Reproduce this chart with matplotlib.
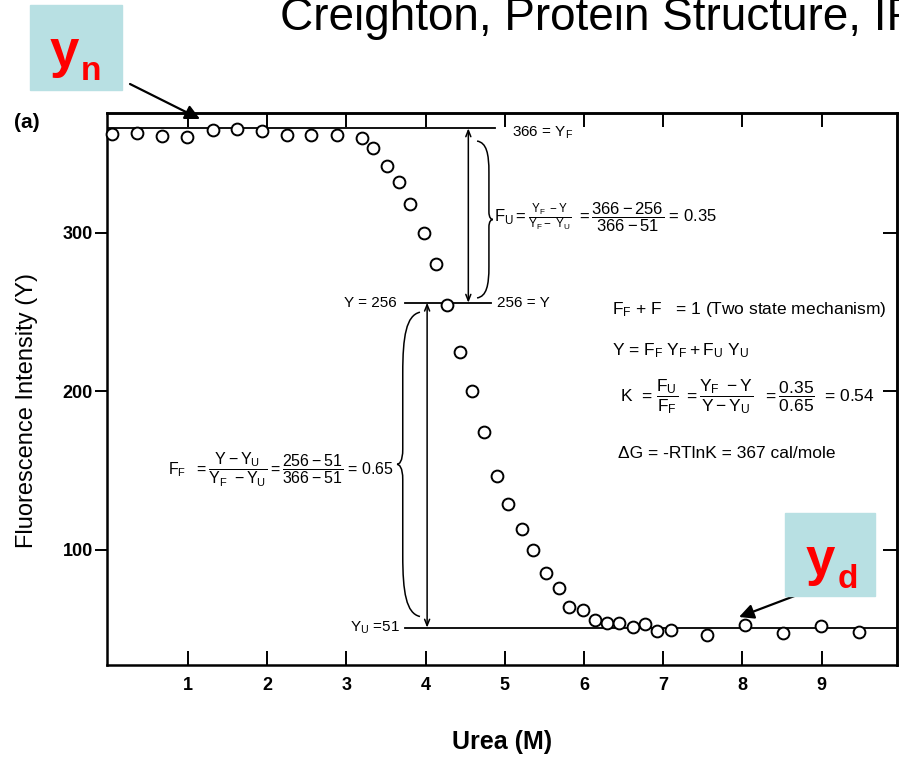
import matplotlib
matplotlib.use('Agg')
import matplotlib.pyplot as plt
from matplotlib.path import Path
from matplotlib.patches import PathPatch, Rectangle

plt.rcParams['font.family'] = ['Liberation Sans', 'DejaVu Sans']
plt.rcParams['mathtext.fontset'] = 'custom'
plt.rcParams['mathtext.rm'] = 'Liberation Sans'
plt.rcParams['mathtext.it'] = 'Liberation Sans'
plt.rcParams['mathtext.bf'] = 'Liberation Sans:bold'

# ---- data ----
urea = [0.04, 0.36, 0.67, 0.99, 1.32, 1.62, 1.94, 2.25, 2.55, 2.88,
        3.20, 3.34, 3.51, 3.67, 3.80, 3.98, 4.13, 4.27, 4.44, 4.59,
        4.74, 4.90, 5.04, 5.22, 5.36, 5.52, 5.69, 5.81, 5.99, 6.14,
        6.29, 6.44, 6.62, 6.77, 6.92, 7.10, 7.55, 8.03, 8.51, 8.99, 9.47]
fluor = [362.5, 363.1, 361.2, 360.6, 365.0, 365.6, 364.4, 361.8, 361.8, 361.8,
         359.9, 353.6, 342.3, 332.2, 318.3, 300.0, 280.4, 254.6, 225.0, 200.3,
         174.5, 146.8, 129.0, 113.2, 100.0, 85.5, 76.0, 64.0, 62.1, 55.8,
         53.9, 53.9, 51.4, 53.3, 48.9, 49.5, 46.4, 52.7, 47.6, 52.1, 48.3]
x_ticks = [1, 2, 3, 4, 5, 6, 7, 8, 9]
y_ticks = [100, 200, 300]
Y_F = 366
Y_MID = 256
Y_U = 51

W, H = 899, 781
def fx(px):
    return px / W
def fy(py):
    return 1 - py / H

fig = plt.figure(figsize=(W / 100, H / 100), dpi=100)
fig.patch.set_facecolor('white')
ax = fig.add_axes([fx(107), fy(665), (897 - 107) / W, (665 - 113) / H])
ax.set_xlim(-0.02, 9.95)
ax.set_ylim(27.4, 375.7)

for s in ax.spines.values():
    s.set_linewidth(1.8)
    s.set_color('black')

ax.plot(urea, fluor, 'o', mfc='white', mec='black', ms=8.5, mew=1.4,
        zorder=6, clip_on=False)

# ticks
ax.set_xticks(x_ticks)
ax.set_yticks(y_ticks)
ax.tick_params(axis='x', direction='in', length=10, width=1.4, labelsize=13,
               pad=9, top=False)
ax.tick_params(axis='y', direction='out', length=9, width=1.4, labelsize=13,
               pad=1, right=False)
for lbl in ax.get_xticklabels() + ax.get_yticklabels():
    lbl.set_fontweight('bold')
sec_top = ax.secondary_xaxis('top')
sec_top.set_xticks(x_ticks)
sec_top.tick_params(direction='in', length=10, width=1.4, labelsize=0,
                    labeltop=False)
sec_top.spines['top'].set_linewidth(1.8)
sec_right = ax.secondary_yaxis('right')
sec_right.set_yticks(y_ticks)
sec_right.tick_params(direction='in', length=10, width=1.4, labelsize=0,
                      labelright=False)
sec_right.spines['right'].set_linewidth(1.8)

# reference lines
ax.plot([-0.02, 4.88], [Y_F, Y_F], color='black', lw=1.3, zorder=3)
ax.plot([3.74, 4.82], [Y_MID, Y_MID], color='black', lw=1.3, zorder=3)
ax.plot([3.74, 9.95], [Y_U, Y_U], color='black', lw=1.3, zorder=3)

arrow_kw = dict(arrowstyle='<->,head_length=0.45,head_width=0.18',
                color='black', lw=1.1, shrinkA=0, shrinkB=0)
ax.annotate('', xy=(4.54, Y_F), xytext=(4.54, Y_MID), arrowprops=arrow_kw)
ax.annotate('', xy=(4.02, Y_MID), xytext=(4.02, Y_U), arrowprops=arrow_kw)

def brace(x0, y0, y1, w, d):
    L = y1 - y0
    pts_n = [(0, 0),
             (0.6, 0.01), (0.75, 0.08), (0.75, 0.2),
             (0.75, 0.3), (0.75, 0.4), (0.75, 0.45),
             (0.75, 0.49), (0.9, 0.5), (1.0, 0.5),
             (0.9, 0.5), (0.75, 0.51), (0.75, 0.55),
             (0.75, 0.6), (0.75, 0.7), (0.75, 0.8),
             (0.75, 0.92), (0.6, 0.99), (0, 1.0)]
    verts = [(x0 + d * q * w, y0 + t * L) for q, t in pts_n]
    codes = [Path.MOVETO] + [Path.CURVE4] * (len(verts) - 1)
    return PathPatch(Path(verts, codes), fill=False, lw=1.1, color='black')

ax.add_patch(brace(4.65, 358, 259, 0.20, +1))
ax.add_patch(brace(3.93, 250, 58, 0.29, -1))

fs = 11
fs2 = 12
ax.text(5.09, 363, r'366 = $\mathrm{Y_F}$', fontsize=fs, va='center', ha='left')
ax.text(4.86, 310,
        r'$\mathrm{F_U = \frac{Y_F\ -Y}{Y_F - \ Y_U}\ = \dfrac{366 - 256}{366 - 51}}$ = 0.35',
        fontsize=fs2, va='center', ha='left')
ax.text(3.64, Y_MID, 'Y = 256', fontsize=fs, va='center', ha='right')
ax.text(4.90, Y_MID, '256 = Y', fontsize=fs, va='center', ha='left')
ax.text(3.68, Y_U, r'$\mathrm{Y_U}$ =51', fontsize=fs, va='center', ha='right')
ax.text(6.35, 251.5, r'$\mathrm{F_F}$ + F   = 1 (Two state mechanism)',
        fontsize=12.5, va='center', ha='left')
ax.text(6.35, 226, r'Y = $\mathrm{F_F\ Y_F + F_U\ Y_U}$',
        fontsize=12.5, va='center', ha='left')
ax.text(6.46, 196.5,
        r'K  = $\mathrm{\dfrac{F_U}{F_F}\ = \dfrac{Y_F\ -Y}{Y - Y_U}\ \ = \dfrac{0.35}{0.65}}$  = 0.54',
        fontsize=12.5, va='center', ha='left')
ax.text(6.43, 161, 'ΔG = -RTlnK = 367 cal/mole', fontsize=12.5, va='center',
        ha='left')
ax.text(3.60, 150.5,
        r'$\mathrm{F_F\ \ = \dfrac{Y - Y_U}{Y_F\ - Y_U} = \dfrac{256 - 51}{366 - 51}}$ = 0.65',
        fontsize=11.5, va='center', ha='right')

# figure-level texts
fig.text(fx(27), fy(410), 'Fluorescence Intensity (Y)', rotation=90,
         ha='center', va='center', fontsize=17)
fig.text(fx(502), fy(742), 'Urea (M)', ha='center', va='center',
         fontsize=18, fontweight='bold')
fig.text(fx(27), fy(123), '(a)', ha='center', va='center', fontsize=15,
         fontweight='bold')
fig.text(fx(280), fy(30), 'Creighton, Protein Structure, IRL Press',
         ha='left', va='baseline', fontsize=33)

# highlight boxes
box_color = '#b8e0e3'
fig.add_artist(Rectangle((fx(30), fy(90)), 92 / W, 85 / H,
                         transform=fig.transFigure, color=box_color, zorder=0))
fig.add_artist(Rectangle((fx(785), fy(596)), 90 / W, 83 / H,
                         transform=fig.transFigure, color=box_color, zorder=7))
fig.text(fx(50), fy(67), 'y', color='red', fontsize=38, fontweight='bold',
         ha='left', va='baseline')
fig.text(fx(81), fy(80), 'n', color='red', fontsize=24, fontweight='bold',
         ha='left', va='baseline')
fig.text(fx(806), fy(575), 'y', color='red', fontsize=38, fontweight='bold',
         ha='left', va='baseline', zorder=8)
fig.text(fx(838), fy(588), 'd', color='red', fontsize=24, fontweight='bold',
         ha='left', va='baseline', zorder=8)

pointer = dict(arrowstyle='-|>', color='black', lw=1.6, mutation_scale=22,
               shrinkA=0, shrinkB=0)
ax.annotate('', xy=(200, H - 119), xytext=(130, H - 84),
            xycoords='figure pixels', textcoords='figure pixels',
            arrowprops=pointer, annotation_clip=False)
ax.annotate('', xy=(739, H - 617), xytext=(805, H - 592),
            xycoords='figure pixels', textcoords='figure pixels',
            arrowprops=pointer, annotation_clip=False)

fig.savefig('out.png', dpi=100)
